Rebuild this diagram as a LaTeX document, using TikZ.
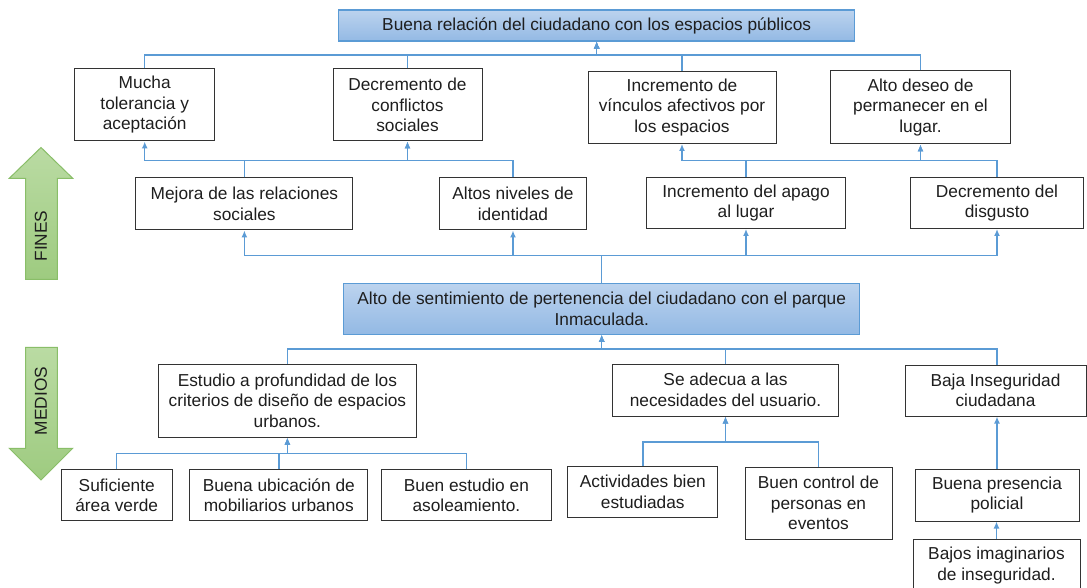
\documentclass[tikz,border=0pt]{standalone}
\usepackage{fontspec}
\setmainfont{Liberation Sans}
\usetikzlibrary{arrows.meta}
\definecolor{lnblue}{RGB}{91,155,213}
\definecolor{bxtop}{RGB}{188,211,238}
\definecolor{bxbot}{RGB}{147,185,228}
\definecolor{grtop}{RGB}{186,219,163}
\definecolor{grbot}{RGB}{158,203,128}
\definecolor{grline}{RGB}{137,190,104}
\definecolor{txtgray}{RGB}{30,30,30}

\begin{document}
\begin{tikzpicture}[x=1pt,y=-1pt,
  every node/.style={font=\fontsize{17.3}{20.5}\selectfont,text=txtgray,align=center,inner sep=0pt},
  wbox/.style={draw=black!80,line width=1pt,fill=white},
  bluebox/.style={draw=lnblue,line width=1.1pt,top color=bxtop,bottom color=bxbot},
  conn/.style={draw=lnblue,line width=1.4pt,-{Latex[length=7pt,width=6pt]}}]
\useasboundingbox (0,0) rectangle (1087,588); %Size of the picture
\clip (0,0) rectangle (1087,588); %Crops the last box
\fill[white] (0,0) rectangle (1087,588); %Background

\begin{scope}[shift={(41,0)}] %Fines arrow
\shade[draw=grline,line width=1pt,top color=grtop,bottom color=grbot] (0,147.5)--(31.7,178.3)--(16.3,178.3)--(16.3,279.3)--(-15.3,279.3)--(-15.3,178.3)--(-31.7,178.3)--cycle;
\node[rotate=90] (fines) at (0,236) {FINES};
\end{scope}
\begin{scope}[shift={(41,0)}] %Medios arrow
\shade[draw=grline,line width=1pt,top color=grtop,bottom color=grbot] (-15.3,347.3)--(16.3,347.3)--(16.3,448.3)--(31.7,448.3)--(0,480)--(-31.7,448.3)--(-15.3,448.3)--cycle;
\node[rotate=90] (medios) at (0,401) {MEDIOS};
\end{scope}

% fines
\node[bluebox,minimum width=516,minimum height=31] (relacion) at (596.7,25.5) {Buena relación del ciudadano con los espacios públicos};
\node[wbox,minimum width=140,minimum height=72] (tolera) at (144.7,105) {Mucha\\tolerancia y\\aceptación};
\node[wbox,minimum width=149,minimum height=72] (conflic) at (407.5,105) {Decremento de\\conflictos\\sociales};
\node[wbox,minimum width=188,minimum height=72] (vincul) at (682,107.5) {Incremento de\\vínculos afectivos por\\los espacios};
\node[wbox,minimum width=180,minimum height=73] (deseo) at (920.5,107.5) {Alto deseo de\\permanecer en el\\lugar.};
\node[wbox,minimum width=217,minimum height=52] (mejora) at (244.4,204) {Mejora de las relaciones\\sociales};
\node[wbox,minimum width=147,minimum height=52] (ident) at (513,204) {Altos niveles de\\identidad};
\node[wbox,minimum width=199,minimum height=51] (apago) at (746,203) {Incremento del apago\\al lugar};
\node[wbox,minimum width=173,minimum height=51] (disgus) at (997,203) {Decremento del\\disgusto};

% problema central
\node[bluebox,minimum width=516,minimum height=51] (sentim) at (601.7,308.7) {Alto de sentimiento de pertenencia del ciudadano con el parque\\Inmaculada.};

% medios
\node[wbox,minimum width=258,minimum height=73] (estud) at (287.4,400.7) {Estudio a profundidad de los\\criterios de diseño de espacios\\urbanos.};
\node[wbox,minimum width=226,minimum height=52] (adecua) at (725.5,390) {Se adecua a las\\necesidades del usuario.};
\node[wbox,minimum width=181,minimum height=51] (baja) at (995.5,390.5) {Baja Inseguridad\\ciudadana};
\node[wbox,minimum width=111,minimum height=51] (verde) at (116.7,495.4) {Suficiente\\área verde};
\node[wbox,minimum width=178,minimum height=51] (mobil) at (278.8,495.4) {Buena ubicación de\\mobiliarios urbanos};
\node[wbox,minimum width=170,minimum height=51] (asolea) at (466.4,495.4) {Buen estudio en\\asoleamiento.};
\node[wbox,minimum width=150,minimum height=51] (activ) at (642.8,491.7) {Actividades bien\\estudiadas};
\node[wbox,minimum width=147,minimum height=72] (control) at (818.5,503.3) {Buen control de\\personas en\\eventos};
\node[wbox,minimum width=164,minimum height=52] (polic) at (997,495) {Buena presencia\\policial};
\node[wbox,minimum width=167,minimum height=52] (imagin) at (996.5,565.5) {Bajos imaginarios\\de inseguridad.};

% heights of the connector lines
\coordinate (busa) at (0,55);
\coordinate (busb) at (0,160.5);
\coordinate (busc) at (0,255.5);
\coordinate (busd) at (0,349);
\coordinate (buse) at (0,453.5);
\coordinate (busf) at (0,442);

\draw[conn] (tolera.north) -- (tolera.north |- busa) -| (relacion.south);
\draw[conn] (conflic.north) -- (conflic.north |- busa) -| (relacion.south);
\draw[conn] (vincul.north) -- (vincul.north |- busa) -| (relacion.south);
\draw[conn] (deseo.north) -- (deseo.north |- busa) -| (relacion.south);

\draw[conn] (mejora.north) -- (mejora.north |- busb) -| (tolera.south);
\draw[conn] (mejora.north) -- (mejora.north |- busb) -| (conflic.south);
\draw[conn] (ident.north) -- (ident.north |- busb) -| (conflic.south);
\draw[conn] (apago.north) -- (apago.north |- busb) -| (vincul.south);
\draw[conn] (apago.north) -- (apago.north |- busb) -| (deseo.south);
\draw[conn] (disgus.north) -- (disgus.north |- busb) -| (deseo.south);

\draw[conn] (sentim.north) -- (sentim.north |- busc) -| (mejora.south);
\draw[conn] (sentim.north) -- (sentim.north |- busc) -| (ident.south);
\draw[conn] (sentim.north) -- (sentim.north |- busc) -| (apago.south);
\draw[conn] (sentim.north) -- (sentim.north |- busc) -| (disgus.south);

\draw[conn] (estud.north) -- (estud.north |- busd) -| (sentim.south);
\draw[conn] (adecua.north) -- (adecua.north |- busd) -| (sentim.south);
\draw[conn] (polic.north |- baja.north) -- (polic.north |- busd) -| (sentim.south);

\draw[conn] (verde.north) -- (verde.north |- buse) -| (estud.south);
\draw[conn] (mobil.north) -- (mobil.north |- buse) -| (estud.south);
\draw[conn] (asolea.north) -- (asolea.north |- buse) -| (estud.south);
\draw[conn] (activ.north) -- (activ.north |- busf) -| (adecua.south);
\draw[conn] (control.north) -- (control.north |- busf) -| (adecua.south);
\draw[conn] (polic.north) -- (polic.north |- baja.south);
\draw[conn] (imagin.north) -- (imagin.north |- polic.south);
\end{tikzpicture}
\end{document}
